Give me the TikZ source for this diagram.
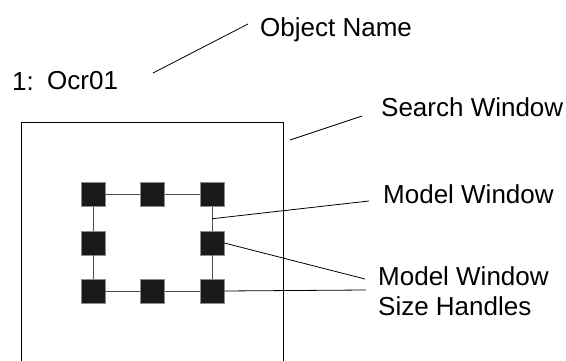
\documentclass[tikz,border=0pt]{standalone}
\usepackage{fontspec}
\setmainfont{Liberation Sans}
\usetikzlibrary{calc}

\begin{document}
\begin{tikzpicture}[x=1pt,y=-1pt,
  label/.style={anchor=base west,inner sep=0pt,font=\fontsize{26}{29.3}\selectfont},
  handle/.style={draw=black!45,fill=black!90,line width=0.6pt,minimum size=24pt,inner sep=0pt},
  wire/.style={black!70,line width=1pt},
  pointer/.style={black,line width=0.8pt}]
\path[use as bounding box] (0,0) rectangle (566,361);
% search window, open at the bottom
\draw[black,line width=0.9pt] (21,362) -- (21,122) -- (283,122) -- (283,362);
% model window and its size handles
\node[handle] (h11) at (93,194.5) {};
\node[handle] (h12) at (152.5,194.5) {};
\node[handle] (h13) at (212,194.5) {};
\node[handle] (h21) at (93,243) {};
\node[handle] (h23) at (212,243) {};
\node[handle] (h31) at (93,291) {};
\node[handle] (h32) at (152.5,291) {};
\node[handle] (h33) at (212,291) {};
\draw[wire] (h11) -- (h12) -- (h13);
\draw[wire] (h31) -- (h32) -- (h33);
\draw[wire] (h11) -- (h21) -- (h31);
\draw[wire] (h13) -- (h23) -- (h33);
% texts
\node[label] (num) at (12,91) {1:};
\node[label] (objid) at (47,90) {Ocr01};
\node[label] (objname) at (260,37) {Object Name};
\node[label] (search) at (381,117) {Search Window};
\node[label] (model) at (383,204) {Model Window};
\node[label,align=left] (sizeh) at (378,315) {Model Window\\Size Handles};
% pointers
\coordinate (p1) at (153,73);
\coordinate (q1) at (248,24);
\coordinate (p2) at (290,140);
\coordinate (q2) at (362,116);
\coordinate (p3) at ($(h13)!0.5!(h23)$);
\coordinate (q3) at (369,201);
\coordinate (q4) at (365,279);
\coordinate (q5) at (366,290);
\draw[pointer] (p1) -- (q1);
\draw[pointer] (p2) -- (q2);
\draw[pointer] (p3) -- (q3);
\draw[pointer] (h23.east) -- (q4);
\draw[pointer] (h33.east) -- (q5);
\end{tikzpicture}
\end{document}
